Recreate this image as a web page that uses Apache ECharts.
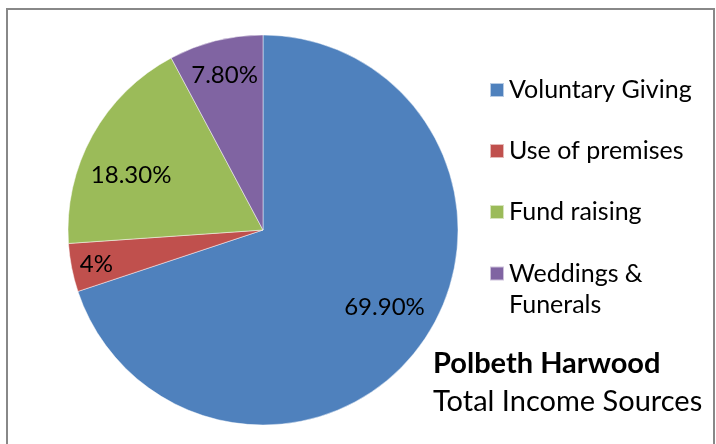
<!DOCTYPE html>
<html>
<head>
<meta charset="utf-8">
<script src="https://cdn.jsdelivr.net/npm/echarts@6/dist/echarts.min.js"></script>
<style>
  html, body { margin: 0; padding: 0; background: #fff; }
  #chart { width: 716px; height: 444px; }
</style>
</head>
<body>
<div id="chart"></div>
<script>
// income sources, share of total (%)
const categories = ["Voluntary Giving", "Use of premises", "Fund raising", "Weddings & Funerals"]
const shares = [69.9, 4, 18.3, 7.8]
const shareLabels = ["69.90%", "4%", "18.30%", "7.80%"]
const colours = ["#4F81BD", "#C0504D", "#9BBB59", "#8064A2"]

// nudges for the inside labels (Excel puts them a bit further out)
const labelNudge = [[40, 18], [-68, 15], [-44, -6], [-14, -57]]

const font = "Lato, 'Noto Sans', sans-serif"

let chart = echarts.init(document.getElementById("chart"), null, {
    renderer: "canvas"
})

let pieData = categories.map((name, i) => ({
    name: name,
    value: shares[i],
    itemStyle: { color: colours[i] }
}))

let option = {
    animation: false,
    backgroundColor: "#fff",
    title: {
        text: "Polbeth Harwood",
        subtext: "Total Income Sources",
        left: 433,
        top: 347,
        padding: 0,
        itemGap: 4,
        textStyle: { fontFamily: font, fontSize: 29, fontWeight: "bold", color: "#000", lineHeight: 34 },
        subtextStyle: { fontFamily: font, fontSize: 29, color: "#000", lineHeight: 34 }
    },
    legend: [
        {
            orient: "vertical",
            left: 489,
            top: 74.5,
            padding: 0,
            itemGap: 30,
            itemWidth: 14,
            itemHeight: 14,
            icon: "rect",
            selectedMode: false,
            data: categories.slice(0, 3),
            textStyle: { fontFamily: font, fontSize: 25, color: "#000", lineHeight: 31 }
        },
        {
            // leading empty line keeps the marker level with "Weddings &"
            orient: "vertical",
            left: 489,
            top: 227,
            padding: 0,
            itemWidth: 14,
            itemHeight: 14,
            icon: "rect",
            selectedMode: false,
            data: [categories[3]],
            formatter: () => "\nWeddings &\nFunerals",
            textStyle: { fontFamily: font, fontSize: 25, color: "#000", lineHeight: 31 }
        }
    ],
    graphic: [{
        type: "rect",
        silent: true,
        shape: { x: 7, y: 9, width: 707, height: 460 },
        style: { fill: null, stroke: "#888", lineWidth: 2 }
    }],
    series: [{
        type: "pie",
        center: [263, 230],
        radius: 195,
        startAngle: 90,
        clockwise: true,
        data: pieData,
        itemStyle: { borderColor: "rgba(255,255,255,0.6)", borderWidth: 0.8 },
        label: {
            show: true,
            position: "inside",
            fontFamily: font,
            fontSize: 24,
            color: "#000",
            formatter: p => shareLabels[p.dataIndex]
        },
        labelLine: { show: false },
        labelLayout: p => ({ dx: labelNudge[p.dataIndex][0], dy: labelNudge[p.dataIndex][1] }),
        emphasis: { disabled: true }
    }]
}

if (option && typeof option === "object") {
    chart.setOption(option)
}
</script>
</body>
</html>
